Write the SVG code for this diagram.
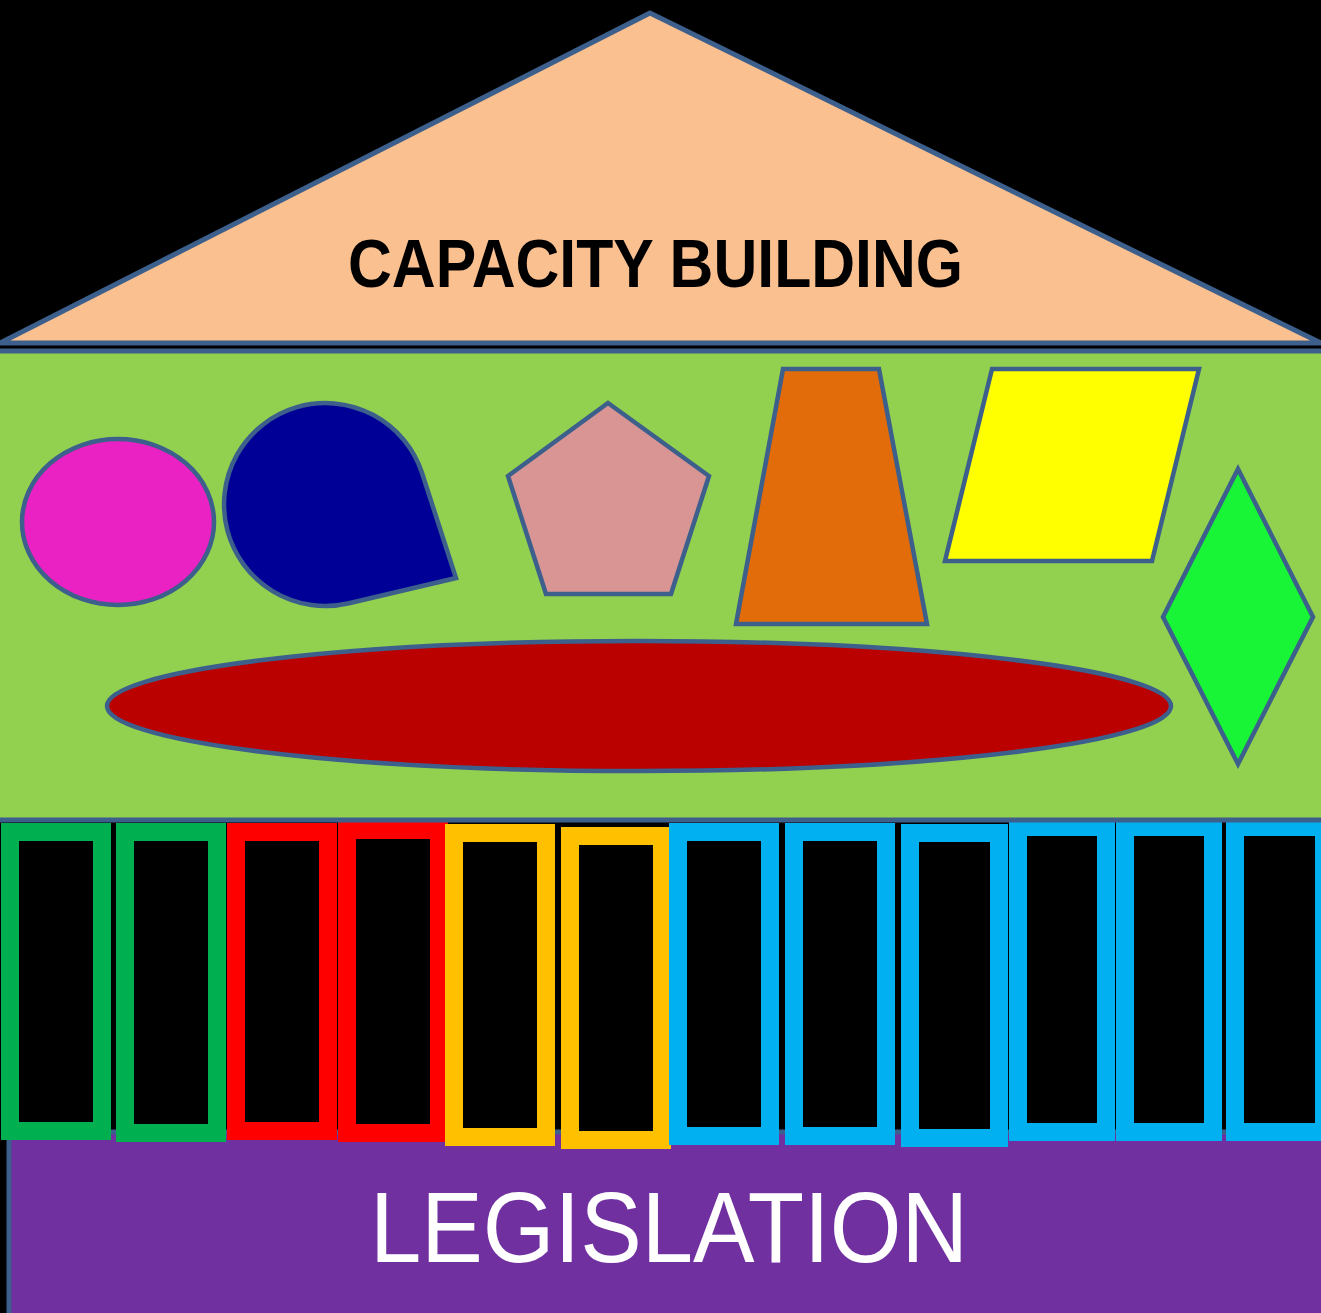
<svg xmlns="http://www.w3.org/2000/svg" width="1321" height="1313" viewBox="0 0 1321 1313">
<style>
.ol{stroke:#3C5F8C;stroke-width:5;stroke-linejoin:miter}
.sh{stroke:#3C5F8C;stroke-width:4.5;stroke-linejoin:miter}
.p{fill:#000;stroke-width:18;stroke-linejoin:miter}
.pg{stroke:#00B050}.pr{stroke:#FF0000}.py{stroke:#FFC000}.pb{stroke:#00B0F0}
</style>
<rect x="0" y="0" width="1321" height="1313" fill="#000"/>
<g id="legislation">
<rect class="ol" x="9" y="1132" width="1330" height="200" fill="#7030A0"/>
<text x="669" y="1262" font-family="Liberation Sans, Arial, sans-serif" font-size="100" fill="#fff" text-anchor="middle" textLength="598" lengthAdjust="spacingAndGlyphs">LEGISLATION</text>
</g>
<g id="pillars">
<rect id="pillar1" class="p pg" x="10" y="832" width="92" height="299"/>
<rect id="pillar2" class="p pg" x="125" y="832" width="92" height="301"/>
<rect id="pillar3" class="p pr" x="236" y="832" width="92" height="299"/>
<rect id="pillar4" class="p pr" x="347" y="830" width="92" height="303"/>
<rect id="pillar5" class="p py" x="454" y="833" width="92" height="304"/>
<rect id="pillar6" class="p py" x="570" y="836" width="92" height="304"/>
<rect id="pillar7" class="p pb" x="678" y="832" width="92" height="304"/>
<rect id="pillar8" class="p pb" x="794" y="832" width="92" height="304"/>
<rect id="pillar9" class="p pb" x="910" y="833" width="89" height="305"/>
<rect id="pillar10" class="p pb" x="1018" y="827" width="88" height="305"/>
<rect id="pillar11" class="p pb" x="1125" y="827" width="88" height="305"/>
<rect id="pillar12" class="p pb" x="1235" y="827" width="89" height="305"/>
</g>
<g id="middle">
<rect class="ol" x="-10" y="351" width="1341" height="469" fill="#92D050"/>
</g>
<g id="shapes">
<ellipse id="magenta" class="sh" cx="118" cy="522" rx="96" ry="83" fill="#EA22C4"/>
<path id="teardrop" class="sh" d="M422.1 473.3 L456 578 L348.9 603.3 A101.5 101.5 0 1 1 422.1 473.3 Z" fill="#000096"/>
<polygon id="pentagon" class="sh" points="608,403 709,476 671,594 546,594 508,476" fill="#D99594"/>
<polygon id="trapezoid" class="sh" points="783,369 879,369 927,624 736,624" fill="#E36C0A"/>
<polygon id="parallelogram" class="sh" points="992,369 1199,369 1152,561 945,561" fill="#FFFF00"/>
<polygon id="diamond" class="sh" points="1238,469 1313,617 1238,764 1163,617" fill="#17F536"/>
<ellipse id="redellipse" class="sh" cx="639" cy="706" rx="532" ry="65" fill="#BB0000"/>
</g>
<g id="roof">
<polygon class="ol" points="650,13 0,343 1321,343" fill="#FAC090"/>
<text x="655.5" y="287" font-family="Liberation Sans, Arial, sans-serif" font-weight="bold" font-size="68" fill="#000" text-anchor="middle" textLength="615" lengthAdjust="spacingAndGlyphs">CAPACITY BUILDING</text>
</g>
<g id="connectors"/>
</svg>
